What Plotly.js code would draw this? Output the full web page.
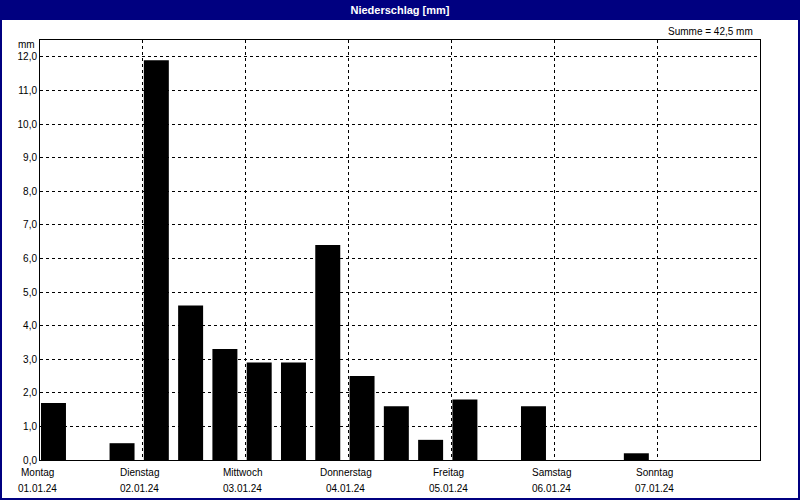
<!DOCTYPE html>
<html>
<head>
<meta charset="utf-8">
<script src="https://cdn.plot.ly/plotly-3.0.1.min.js"></script>
<style>
html,body{margin:0;padding:0;background:#fff;}
#chart{width:800px;height:500px;}
</style>
</head>
<body>
<div id="chart"></div>
<script>
// 8-hour precipitation intervals starting Monday 01.01.24 00:00 (hours from start)
const intervalStartHours = [0,8,16,24,32,40,48,56,64,72,80,88,96,104,112,120,128,136,144,152,160];
const precipitation = [1.7,0,0.5,11.9,4.6,3.3,2.9,2.9,6.4,2.5,1.6,0.6,1.8,0,1.6,0,0,0.2,0,0,0];
const dayNames = ["Montag","Dienstag","Mittwoch","Donnerstag","Freitag","Samstag","Sonntag"];
const dayDates = ["01.01.24","02.01.24","03.01.24","04.01.24","05.01.24","06.01.24","07.01.24"];
const dayStartHours = [0,24,48,72,96,120,144];
const yTicks = [0,1,2,3,4,5,6,7,8,9,10,11,12];

const total = precipitation.reduce((a,b)=>a+b,0);
const totalText = "Summe = " + total.toFixed(1).replace(".", ",") + " mm";

const font = "Liberation Sans, Arial, sans-serif";
const navy = "#000080";
const L=40, R=40, T=40, B=40, W=800, H=500;
const pw = W-L-R, ph = H-T-B;

const trace = {
  type: "bar",
  x: intervalStartHours,
  y: precipitation,
  width: 5.83,
  offset: 0.23,
  marker: {color: "#000000", line: {width: 0}},
  hoverinfo: "skip"
};

const dayAnnotations = [];
dayStartHours.forEach((h,i)=>{
  dayAnnotations.push({text: dayNames[i], xref:"x", yref:"paper", x:h, y:-13/ph,
    xanchor:"center", yanchor:"middle", xshift:-3, showarrow:false,
    font:{family: font, size:10, color:"#000"}});
  dayAnnotations.push({text: dayDates[i], xref:"x", yref:"paper", x:h, y:-28/ph,
    xanchor:"center", yanchor:"middle", xshift:-3, showarrow:false,
    font:{family: font, size:10, color:"#000"}});
});

const layout = {
  width: W, height: H,
  margin: {l:L, r:R, t:T, b:B, pad:0},
  paper_bgcolor: "#ffffff",
  plot_bgcolor: "#ffffff",
  showlegend: false,
  font: {family: font, size: 10, color: "#000"},
  title: {
    text: "<b>Niederschlag [mm]</b>",
    font: {family: font, size: 11, color: "#ffffff"},
    x: 0.5, xanchor: "center",
    y: 1 - 10/H, yanchor: "middle", yref: "container"
  },
  xaxis: {
    range: [0,168],
    tickvals: dayStartHours,
    showticklabels: false,
    ticks: "",
    showgrid: true,
    gridcolor: "#000",
    griddash: "3px,3px",
    gridwidth: 1,
    showline: true, linecolor: "#000", linewidth: 1, mirror: true,
    zeroline: false,
    fixedrange: true
  },
  yaxis: {
    range: [0,12.5],
    tickvals: yTicks,
    tickformat: ".1f",
    ticks: "",
    showgrid: true,
    gridcolor: "#000",
    griddash: "3px,3px",
    gridwidth: 1,
    showline: true, linecolor: "#000", linewidth: 1, mirror: true,
    zeroline: false,
    tickfont: {family: font, size: 10, color: "#000"},
    fixedrange: true
  },
  separators: ",.",
  shapes: [
    {type:"rect", xref:"paper", yref:"paper",
     x0: -L/pw, x1: 1+R/pw, y0: 1+(T-20)/ph, y1: 1+T/ph,
     fillcolor: navy, line:{width:0}, layer:"below"},
    {type:"rect", xref:"paper", yref:"paper",
     x0: -(L-1)/pw, x1: 1+(R-1)/pw, y0: -(B-1)/ph, y1: 1+T/ph,
     fillcolor: "rgba(0,0,0,0)", line:{width:2, color: navy}}
  ],
  annotations: [
    {text: totalText, xref:"paper", yref:"paper", x: 1-5/pw, y: 1+9/ph,
     xanchor:"right", yanchor:"middle", showarrow:false,
     font:{family: font, size:10, color:"#000"}},
    {text: "mm", xref:"paper", yref:"paper", x: -3/pw, y: 1-5/ph,
     xanchor:"right", yanchor:"middle", showarrow:false,
     font:{family: font, size:10, color:"#000"}}
  ].concat(dayAnnotations)
};

Plotly.newPlot("chart", [trace], layout, {displayModeBar:false, staticPlot:true});
</script>
</body>
</html>
